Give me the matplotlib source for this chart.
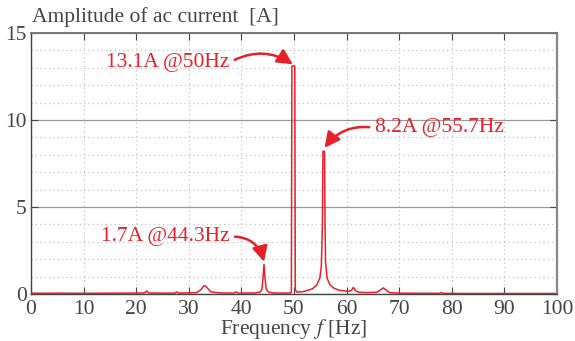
import matplotlib
matplotlib.use("Agg")
import matplotlib.pyplot as plt
from matplotlib.ticker import MultipleLocator

# spectrum
freq = [0, 3, 5, 8, 12, 15, 18, 21.6, 22.0, 22.4, 25, 27.3, 27.7, 28.1,
        31.5, 32.3, 32.8, 33.1, 33.5, 34.2, 36, 38.6, 39.0, 39.4, 42.5,
        43.5, 43.9, 44.1, 44.3, 44.5, 44.7, 45.1, 46, 48, 49.3, 49.5,
        49.6, 50.15, 50.25, 50.5, 51.5, 52.5, 53.5, 54.3, 54.9, 55.2,
        55.4, 55.5, 55.8, 55.9, 56.0, 56.3, 56.8, 57.5, 58.5, 60.3,
        60.9, 61.3, 61.7, 62.3, 64, 65.8, 66.5, 67.0, 67.5, 68.2, 70,
        74, 77.6, 78.0, 78.4, 82, 88, 94, 100]
amp = [0.05, 0.04, 0.05, 0.04, 0.04, 0.05, 0.05, 0.06, 0.17, 0.06, 0.05,
       0.05, 0.12, 0.05, 0.08, 0.25, 0.45, 0.48, 0.35, 0.12, 0.06, 0.05,
       0.12, 0.05, 0.06, 0.1, 0.25, 0.9, 1.7, 0.9, 0.3, 0.12, 0.06, 0.05,
       0.06, 0.1, 13.1, 13.1, 0.25, 0.12, 0.12, 0.2, 0.3, 0.5, 0.9,
       1.6, 4.0, 8.2, 8.2, 4.0, 1.8, 0.9, 0.55, 0.35, 0.22, 0.15, 0.2,
       0.38, 0.18, 0.1, 0.08, 0.1, 0.25, 0.35, 0.22, 0.08, 0.05, 0.04,
       0.04, 0.08, 0.04, 0.03, 0.03, 0.03, 0.03]

red = "#e8202a"
grey = "#444444"
fs = 15.5

plt.rcParams["font.family"] = ["Liberation Serif", "DejaVu Serif"]
plt.rcParams["mathtext.fontset"] = "stix"

fig = plt.figure(figsize=(5.75, 3.41), dpi=100)
ax = fig.add_axes([31 / 575, 1 - 294 / 341, 526 / 575, 261 / 341])

ax.plot(freq, amp, color=red, lw=1.1)

ax.set_xlim(0, 100)
ax.set_ylim(0, 15)
ax.xaxis.set_major_locator(MultipleLocator(10))
ax.yaxis.set_major_locator(MultipleLocator(5))
ax.yaxis.set_minor_locator(MultipleLocator(1))

ax.grid(True, which="major", axis="y", color="#999999", lw=0.9, ls="-")
ax.grid(True, which="minor", axis="y", color="#c4c4c4", lw=0.9, ls=(0, (1, 2.5)))
ax.grid(True, which="major", axis="x", color="#c4c4c4", lw=0.9, ls=(0, (1, 2.5)))
ax.set_axisbelow(True)

for s in ax.spines.values():
    s.set_color(grey)
    s.set_linewidth(1.0)
ax.spines["right"].set_color("#888888")
ax.spines["right"].set_linewidth(1.6)
ax.spines["top"].set_color("#777777")
ax.spines["top"].set_linewidth(1.4)
ax.tick_params(which="both", direction="in", top=True, right=True,
               colors=grey, labelsize=fs)
ax.tick_params(axis="y", pad=3)
ax.tick_params(axis="x", pad=4)
ax.tick_params(which="minor", length=0)
ax.tick_params(which="major", length=5)

fig.text(32 / 575, 1 - 17 / 341, "Amplitude of ac current  [A]", fontsize=fs,
         color=grey, va="center", ha="left")
ax.set_xlabel(r"Frequency $f$ [Hz]", fontsize=fs, color=grey, labelpad=-1)

arrow = dict(arrowstyle="-|>,head_length=0.6,head_width=0.3", color=red,
             lw=1.8, relpos=(1.0, 0.5), shrinkA=2, shrinkB=0)
ax.annotate("13.1A @50Hz", xy=(49.8, 13.2), xytext=(26.0, 13.3),
            fontsize=fs, color=red, ha="center", va="center",
            arrowprops=dict(connectionstyle="arc3,rad=-0.3", **arrow))
arrow["relpos"] = (0.0, 0.5)
ax.annotate("8.2A @55.7Hz", xy=(55.8, 8.4), xytext=(77.6, 9.55),
            fontsize=fs, color=red, ha="center", va="center",
            arrowprops=dict(connectionstyle="arc3,rad=0.3", **arrow))
arrow["relpos"] = (1.0, 0.5)
ax.annotate("1.7A @44.3Hz", xy=(44.3, 1.85), xytext=(25.5, 3.3),
            fontsize=fs, color=red, ha="center", va="center",
            arrowprops=dict(connectionstyle="arc3,rad=-0.4", **arrow))

fig.savefig("out.png", dpi=100)
